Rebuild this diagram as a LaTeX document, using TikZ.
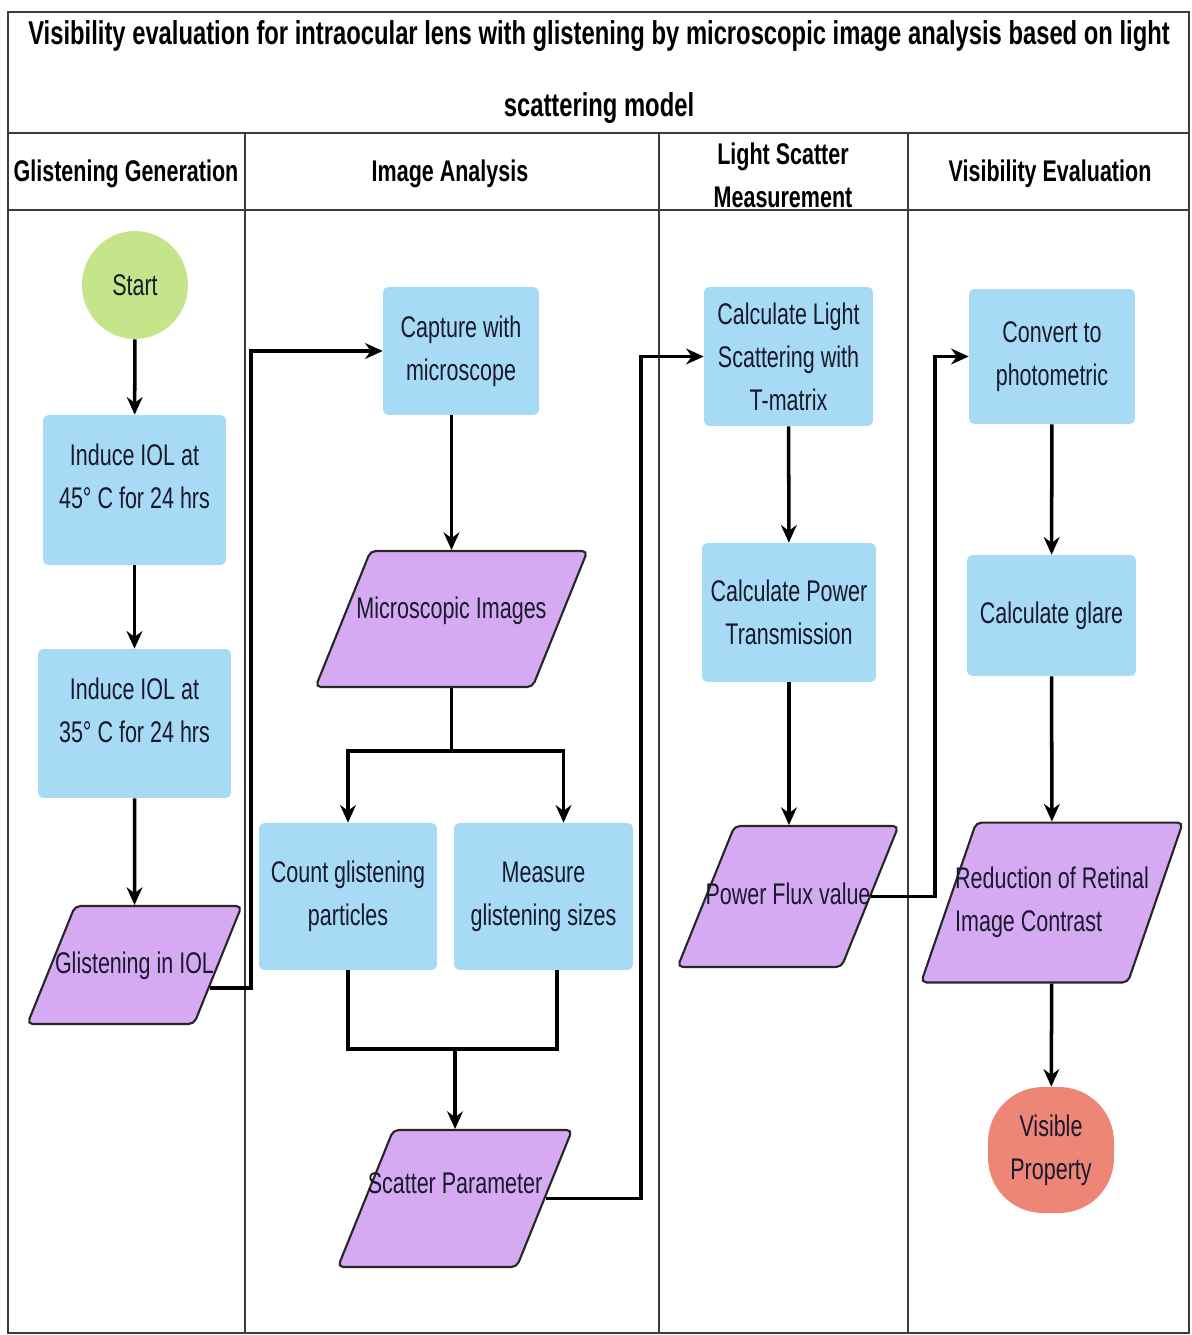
\documentclass[tikz,border=0pt]{standalone}
\usepackage{fontspec}
\setmainfont{Liberation Sans}[FakeStretch=0.72]
\usetikzlibrary{shapes.geometric,arrows.meta,calc}

\definecolor{boxblue}{RGB}{166,218,245}
\definecolor{iopurple}{RGB}{214,170,243}
\definecolor{startgreen}{RGB}{197,229,138}
\definecolor{endsalmon}{RGB}{238,134,120}
\definecolor{inkc}{RGB}{25,25,45}
\definecolor{framegray}{RGB}{60,60,60}

\tikzset{
  proc/.style={rectangle, rounded corners=3pt, fill=boxblue, text=inkc, align=center,
    inner sep=1pt, font=\fontsize{17}{24.5}\selectfont},
  io/.style={trapezium, trapezium left angle=68, trapezium right angle=112,
    draw=black!85, line width=1.2pt, rounded corners=3pt, fill=iopurple, text=inkc,
    text height=0.45cm, text depth=0.13cm, font=\fontsize{17}{24.5}\selectfont},
  term/.style={ellipse, text=inkc, align=center, inner sep=0pt,
    font=\fontsize{17}{24.5}\selectfont},
  lane/.style={font=\bfseries\fontsize{17}{24.5}\selectfont, align=center},
  flow/.style={->, line width=2pt},
  link/.style={line width=2pt}
}

\begin{document}
\begin{tikzpicture}[x=0.02cm, y=-0.02cm, >={Stealth[length=10pt,width=9pt]}]
	\useasboundingbox (0,0) rectangle (1191,1335);
	% frame and lanes
	\draw[framegray, line width=1.1pt] (8,12) rectangle (1189,1333);
	\draw[framegray, line width=1.6pt] (8,12) -- (1189,12);
	\draw[framegray, line width=1.1pt] (8,133) -- (1189,133);
	\draw[framegray, line width=1.1pt] (8,210) -- (1189,210);
	\draw[framegray, line width=0.9pt] (245,133) -- (245,1333);
	\draw[framegray, line width=0.9pt] (659,133) -- (659,1333);
	\draw[framegray, line width=0.9pt] (908,133) -- (908,1333);
	\node[font=\bfseries\fontsize{18.8}{41.4}\selectfont, align=center] (title) at (599,72)
		{Visibility evaluation for intraocular lens with glistening by microscopic image analysis based on light\\scattering model};
	\node[lane] (hdgen) at (126,174) {Glistening Generation};
	\node[lane] (hdimg) at (450,174) {Image Analysis};
	\node[lane] (hdlight) at (783,175) {Light Scatter\\Measurement};
	\node[lane] (hdvis) at (1050,174) {Visibility Evaluation};

	% glistening generation
	\node[term, fill=startgreen, minimum width=2.12cm, minimum height=2.16cm] (start) at (135,285) {Start};
	\node[proc, minimum width=3.66cm, minimum height=3.00cm, text depth=0.55cm] (ind45) at (134.5,490) {Induce IOL at\\45° C for 24 hrs};
	\node[proc, minimum width=3.86cm, minimum height=2.98cm, text depth=0.55cm] (ind35) at (134.5,723.5) {Induce IOL at\\35° C for 24 hrs};
	\node[io, inner xsep=-0.4cm, inner ysep=0.89cm] (glist) at (134.5,965) {Glistening in IOL};

	% image analysis
	\node[proc, minimum width=3.12cm, minimum height=2.56cm] (cap) at (461,351) {Capture with\\microscope};
	\node[io, inner xsep=-0.28cm, text depth=0.49cm, inner ysep=0.89cm] (micro) at (451.5,619) {Microscopic Images};
	\node[proc, minimum width=3.56cm, minimum height=2.94cm] (count) at (348,896.5) {Count glistening\\particles};
	\node[proc, minimum width=3.58cm, minimum height=2.94cm] (meas) at (543.5,896.5) {Measure\\glistening sizes};
	\node[io, inner xsep=-0.51cm, text depth=0.65cm, inner ysep=0.82cm] (scat) at (455,1198.5) {Scatter Parameter};

	% light scatter measurement
	\node[proc, minimum width=3.38cm, minimum height=2.78cm] (calcls) at (788.5,356.5) {Calculate Light\\Scattering with\\T-matrix};
	\node[proc, minimum width=3.48cm, minimum height=2.78cm] (calcp) at (789,612.5) {Calculate Power\\Transmission};
	\node[io, inner xsep=-0.58cm, inner ysep=1.12cm] (flux) at (788,896.5) {Power Flux value};

	% visibility evaluation
	\node[proc, minimum width=3.32cm, minimum height=2.70cm] (conv) at (1052,356.5) {Convert to\\photometric};
	\node[proc, minimum width=3.38cm, minimum height=2.42cm] (glare) at (1051.5,615.5) {Calculate glare};
	\node[io, trapezium left angle=71, trapezium right angle=109, text height={}, text depth={},
		inner xsep=-0.42cm, inner ysep=0.89cm, align=left] (reduc) at (1052,902.5) {Reduction of Retinal\\Image Contrast};
	\node[rectangle, rounded corners=1.1cm, fill=endsalmon, text=inkc, align=center,
		minimum width=2.52cm, minimum height=2.52cm, font=\fontsize{17}{24.5}\selectfont] (vis) at (1051,1150) {Visible\\Property};

	% connectors
	\coordinate (laneA) at (251,0);
	\coordinate (laneB) at (641,0);
	\coordinate (laneC) at (935,0);
	\draw[flow] (start) -- (ind45);
	\draw[flow] (ind45) -- (ind35);
	\draw[flow] (ind35) -- (glist);
	\coordinate (glistout) at ($(glist.bottom right corner)!0.31!(glist.top right corner)$);
	\draw[flow] (glistout) -| (laneA |- cap.west) -- (cap.west);
	\draw[flow] (micro.north |- cap.south) -- (micro.north);
	\draw[link] (micro.south) -- ++(0,63) coordinate (splitA);
	\draw[flow] (splitA) -| (count.north);
	\draw[flow] (splitA) -| ([xshift=0.4cm]meas.north);
	\path (scat.north) ++(0,-80) coordinate (mergeA);
	\draw[link] (count.south) |- (mergeA) -| ([xshift=0.27cm]meas.south);
	\draw[flow] (mergeA) -- (scat.north);
	\draw[flow] (scat.east) -| (laneB |- calcls.west) -- (calcls.west);
	\draw[flow] (calcls) -- (calcp);
	\draw[flow] (calcp.south) -- (calcp.south |- flux.north);
	\draw[flow] (flux.east) -| (laneC |- conv.west) -- (conv.west);
	\draw[flow] (conv) -- (glare);
	\draw[flow] (glare) -- (reduc);
	\draw[flow] (reduc) -- (vis);
\end{tikzpicture}
\end{document}
